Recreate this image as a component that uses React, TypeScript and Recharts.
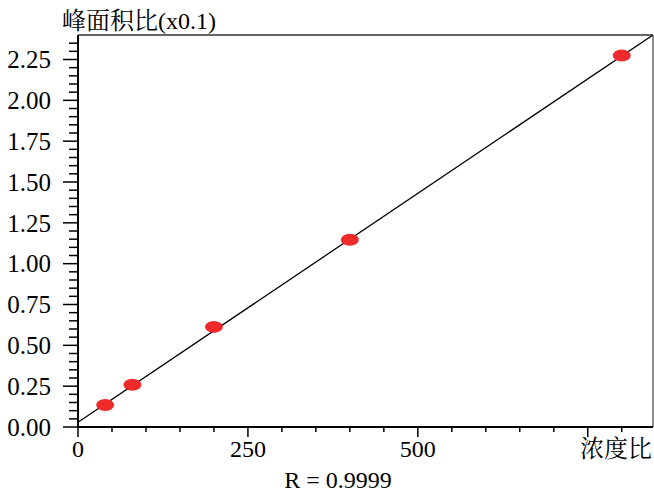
import React from 'react';
import { ScatterChart, Scatter, XAxis, YAxis, ReferenceLine } from 'recharts';

const FONT = '"Liberation Serif", "Noto Serif CJK SC", "Noto Sans CJK SC", serif';

// standard points: concentration ratio vs area ratio (x0.1)
const concRatio = [40, 80, 200, 400, 800];
const areaRatio = [0.135, 0.258, 0.613, 1.147, 2.275];

// fitted calibration line end points
const fitX = [0, 846];
const fitY = [0.029, 2.4];

const xMajor = [0, 250, 500, 750];
const xMinor = [50, 100, 150, 200, 300, 350, 400, 450, 550, 600, 650, 700, 800];
const yMajor = [0, 0.25, 0.5, 0.75, 1, 1.25, 1.5, 1.75, 2, 2.25];
const yMinorStep = 0.05;

const X_MAX = 846;
const Y_MAX = 2.4;

const points = concRatio.map((x, i) => ({ x, y: areaRatio[i] }));
const fitLine = fitX.map((x, i) => ({ x, y: fitY[i] }));

const yMinor: number[] = [];
for (let i = 1; i * yMinorStep < Y_MAX - 0.001; i++) {
    const v = Math.round(i * yMinorStep * 100) / 100;
    if (!yMajor.some((m) => Math.abs(m - v) < 1e-6)) yMinor.push(v);
}

const isMajor = (list: number[], v: number) => list.some((m) => Math.abs(m - v) < 1e-6);

const XTick = (props: any) => {
    const { x, y, payload } = props;
    const v = payload.value;
    const major = isMajor(xMajor, v);
    let label: React.ReactNode = null;
    if (major && v === 750) {
        label = (
            <text x={652} y={y + 30} textAnchor="end" fontSize={24} fontFamily={FONT} fill="#000">
                浓度比
            </text>
        );
    } else if (major) {
        label = (
            <text x={x} y={y + 30} textAnchor="middle" fontSize={24} fontFamily={FONT} fill="#000">
                {v}
            </text>
        );
    }
    return (
        <g>
            <line x1={x} x2={x} y1={y} y2={y + (major ? 10 : 5)} stroke="#000" strokeWidth={1.5} />
            {label}
        </g>
    );
};

const YTick = (props: any) => {
    const { x, y, payload } = props;
    const v = payload.value;
    const major = isMajor(yMajor, v);
    return (
        <g>
            <line x1={x} x2={x - (major ? 15 : 9)} y1={y} y2={y} stroke="#000" strokeWidth={1.5} />
            {major && (
                <text x={51} y={y} dy="0.35em" textAnchor="end" fontSize={25} fontFamily={FONT} fill="#000">
                    {v.toFixed(2)}
                </text>
            )}
        </g>
    );
};

const Dot = (props: any) => {
    const { cx, cy } = props;
    return <ellipse cx={cx} cy={cy} rx={9} ry={6} fill="#ee2a2a" />;
};

export default function App() {
    return (
        <div style={{ position: 'absolute', left: 0, top: 0, width: 654, height: 493, background: '#fff' }}>
            <ScatterChart width={654} height={493} margin={{ top: 35, right: 1, bottom: 0, left: 0 }}>
                <XAxis
                    type="number"
                    dataKey="x"
                    domain={[0, X_MAX]}
                    allowDataOverflow
                    ticks={[...xMajor, ...xMinor].sort((a, b) => a - b)}
                    interval={0}
                    height={66}
                    tickSize={0}
                    tickMargin={0}
                    tickLine={false}
                    tick={<XTick />}
                    axisLine={{ stroke: '#000', strokeWidth: 2 }}
                />
                <YAxis
                    type="number"
                    dataKey="y"
                    domain={[0, Y_MAX]}
                    allowDataOverflow
                    ticks={[...yMajor, ...yMinor].sort((a, b) => a - b)}
                    interval={0}
                    width={78}
                    tickSize={0}
                    tickMargin={0}
                    tickLine={false}
                    tick={<YTick />}
                    axisLine={{ stroke: '#000', strokeWidth: 2 }}
                />
                <ReferenceLine y={Y_MAX} stroke="#666" strokeWidth={2} />
                <ReferenceLine x={X_MAX} stroke="#666" strokeWidth={1.5} />
                <Scatter
                    data={fitLine}
                    line={{ stroke: '#000', strokeWidth: 1.3 }}
                    shape={() => <g />}
                    isAnimationActive={false}
                />
                <Scatter data={points} shape={<Dot />} isAnimationActive={false} />
            </ScatterChart>
            <svg
                width={654}
                height={493}
                style={{ position: 'absolute', left: 0, top: 0, pointerEvents: 'none' }}
            >
                <text x={62} y={29} fontSize={24} fontFamily={FONT} fill="#000">
                    峰面积比(x0.1)
                </text>
                <text x={338} y={488} textAnchor="middle" fontSize={24} fontFamily={FONT} fill="#000">
                    R = 0.9999
                </text>
            </svg>
        </div>
    );
}
